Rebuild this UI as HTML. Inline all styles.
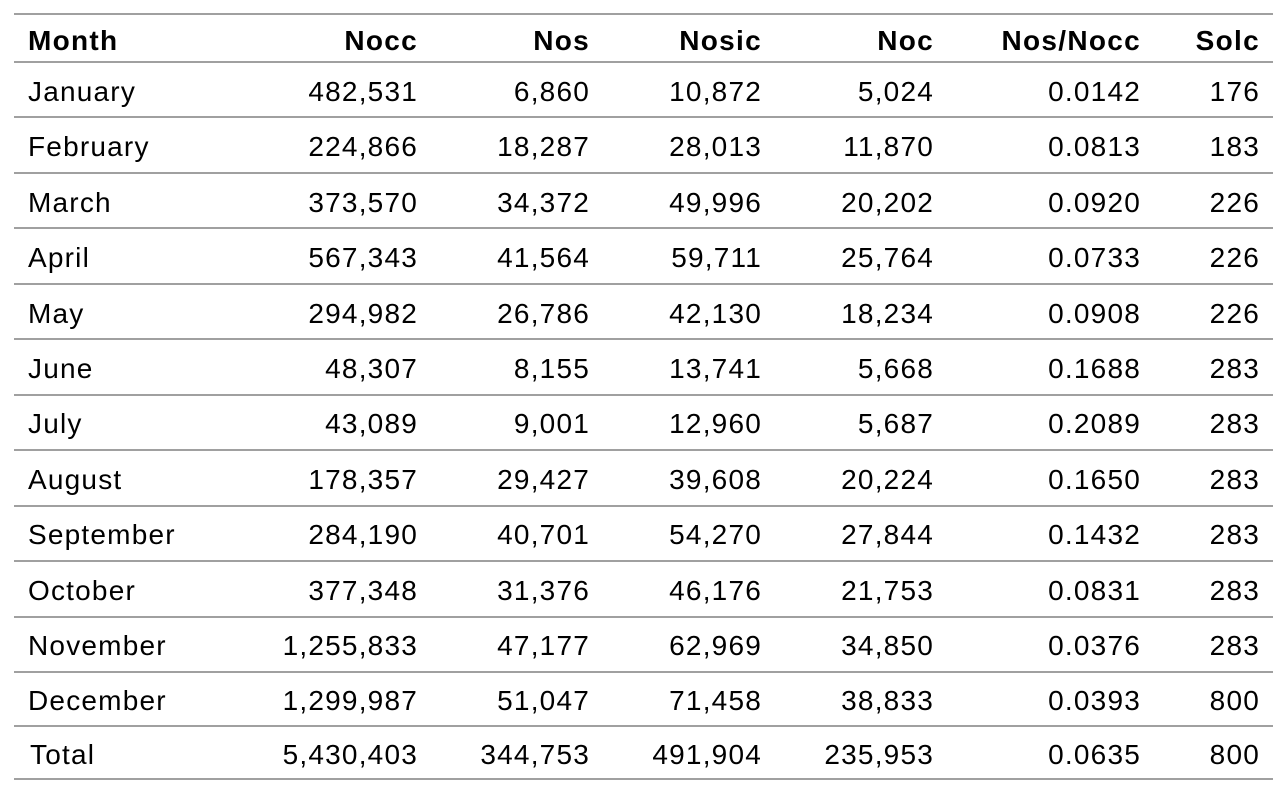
<!DOCTYPE html>
<html><head><meta charset="utf-8"><style>
body{margin:0;width:1287px;height:794px;background:#fff;position:relative;overflow:hidden;font-family:"Liberation Sans",Arial,sans-serif;color:#000}
.ln{position:absolute;left:14px;width:1259px;height:2px;background:#a0a0a0}
.c{position:absolute;font-size:28px;letter-spacing:1.2px;line-height:30px;white-space:nowrap}
.h{font-weight:bold;letter-spacing:1.3px}
</style></head><body>
<script>
const headers=["Month","Nocc","Nos","Nosic","Noc","Nos/Nocc","Solc"];
const months=["January","February","March","April","May","June","July","August","September","October","November","December","Total"];
const nocc=["482,531","224,866","373,570","567,343","294,982","48,307","43,089","178,357","284,190","377,348","1,255,833","1,299,987","5,430,403"];
const nos=["6,860","18,287","34,372","41,564","26,786","8,155","9,001","29,427","40,701","31,376","47,177","51,047","344,753"];
const nosic=["10,872","28,013","49,996","59,711","42,130","13,741","12,960","39,608","54,270","46,176","62,969","71,458","491,904"];
const noc=["5,024","11,870","20,202","25,764","18,234","5,668","5,687","20,224","27,844","21,753","34,850","38,833","235,953"];
const ratio=["0.0142","0.0813","0.0920","0.0733","0.0908","0.1688","0.2089","0.1650","0.1432","0.0831","0.0376","0.0393","0.0635"];
const solc=["176","183","226","226","226","283","283","283","283","283","283","800","800"];
const cols=[months,nocc,nos,nosic,noc,ratio,solc];
const rights=[null,417,589,761,933,1140,1259];
function line(y){const d=document.createElement('div');d.className='ln';d.style.top=(y-1)+'px';


document.body.appendChild(d);}
function cell(txt,y,ci,bold){const d=document.createElement('div');d.className='c'+(bold?' h':'');d.textContent=txt;
d.style.top=(y-13)+'px';
if(ci===0)d.style.left=(txt==='Total'?30:28)+'px';else d.style.right=(1287-rights[ci]-1)+'px';


document.body.appendChild(d);}
const ys=[14,62];for(let i=1;i<=11;i++)ys.push(62+55.45*i);ys.push(726,779);
ys.forEach(line);
headers.forEach((h,ci)=>cell(h,39,ci,true));
for(let r=0;r<13;r++){const y=(ys[r+1]+ys[r+2])/2;cols.forEach((c,ci)=>cell(c[r],y,ci,false));}
</script>
</body></html>
